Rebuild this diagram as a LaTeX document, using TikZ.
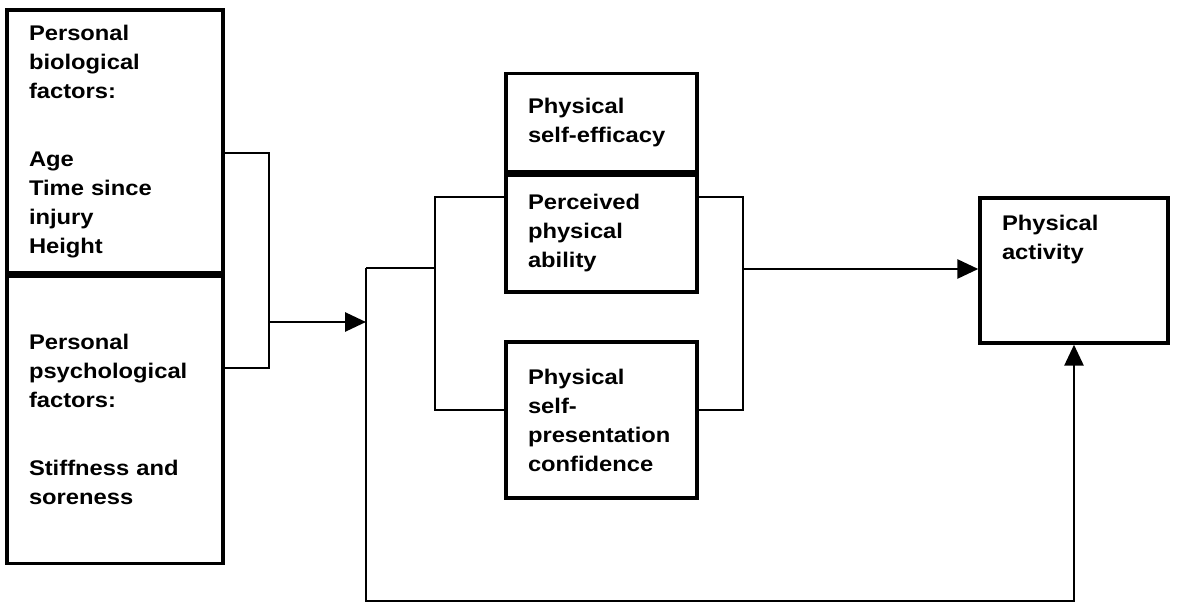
\documentclass[tikz,border=0pt]{standalone}
\usepackage{fontspec}
\setmainfont{Liberation Sans}[FakeStretch=1.12]
\usepackage{tikz}
\usetikzlibrary{arrows.meta,positioning}

\tikzset{
  factorbox/.style={draw, line width=1.7pt, rectangle, align=left, inner xsep=11pt,
    font=\fontsize{10.6}{14.5}\selectfont\bfseries},
  link/.style={line width=1.4pt},
  linkarrow/.style={line width=1.4pt, -{Triangle[length=10.5pt, width=9.5pt]}}
}

\begin{document}
\begin{tikzpicture}[x=0.5pt, y=-0.5pt]
\useasboundingbox (0,0) rectangle (1178,604);

% Left column: personal factors
\node[factorbox, text width=86pt, minimum height=131.5pt] (bio) at (115,141.5)
  {Personal\\biological\\factors:\\[19.5pt]Age\\Time since\\injury\\Height};
\node[factorbox, text width=86pt, minimum height=143.5pt, below=0pt of bio] (psy)
  {Personal\\psychological\\factors:\\[19.5pt]Stiffness and\\soreness};

% Middle column: self-perceptions
\node[factorbox, text width=73.5pt, minimum height=58.5pt] (abil) at (601.5,233.5)
  {Perceived\\physical\\ability};
\node[factorbox, text width=73.5pt, minimum height=49pt, above=0pt of abil] (eff)
  {Physical\\self-efficacy};
\node[factorbox, text width=73.5pt, minimum height=78pt] (pres) at (601.5,420)
  {Physical\\self-\\presentation\\confidence};

% Right: outcome
\node[factorbox, text width=72pt, minimum height=72.5pt] (act) at (1074,270.5)
  {Physical\\activity\\[19pt]\mbox{}};

% Junction points
\coordinate (join) at (269,322);
\coordinate (hub) at (366,322);
\coordinate (split) at (435,268);
\coordinate (merge) at (743,269);
\coordinate (loop) at (366,601);

% Connectors
\draw[link] (bio.east |- 0,153) -| (join) |- (psy.east |- 0,368);
\draw[linkarrow] (join) -- (hub);
\draw[link] (hub |- split) -- (split);
\draw[link] (abil.west |- 0,197) -| (split) |- (pres.west |- 0,410);
\draw[link] (abil.east |- 0,197) -| (merge) |- (pres.east |- 0,410);
\draw[linkarrow] (merge) -- (act.west |- merge);
\draw[linkarrow] (hub |- split) -- (loop) -| (act.south);
\end{tikzpicture}
\end{document}
